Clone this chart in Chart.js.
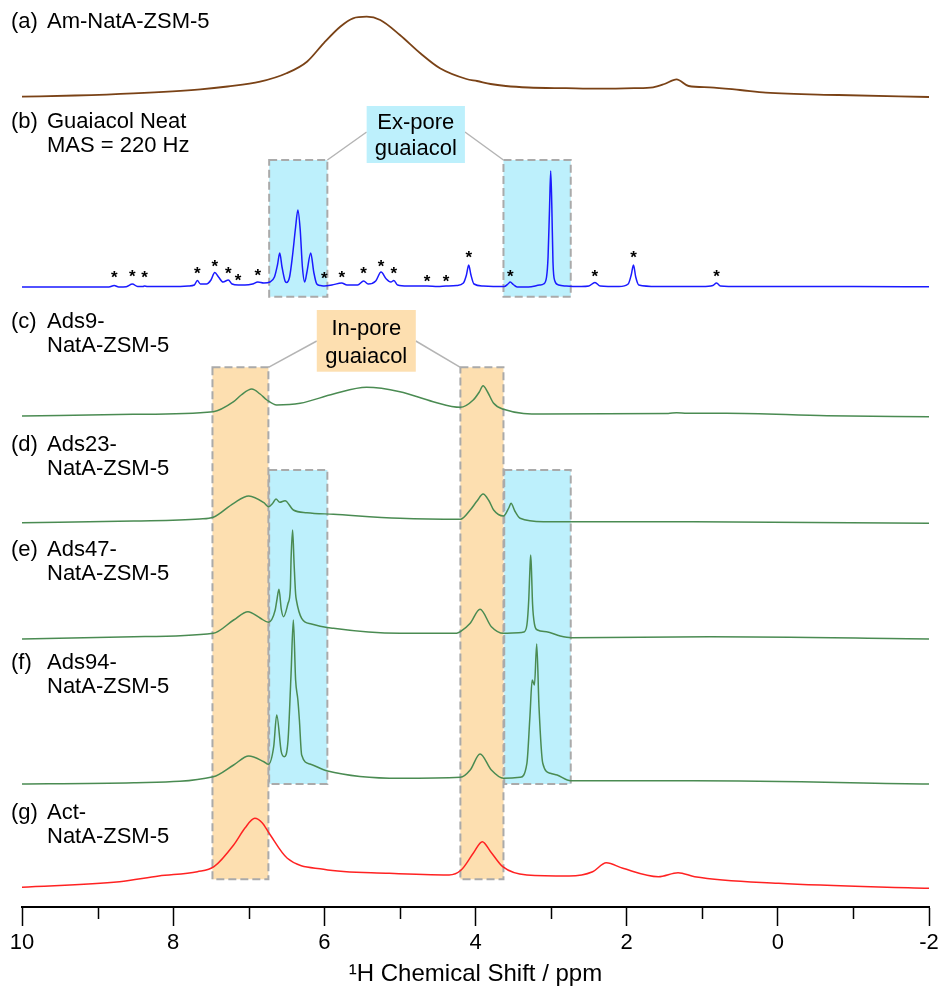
<!DOCTYPE html>
<html>
<head>
<meta charset="utf-8">
<script src="https://cdn.jsdelivr.net/npm/chart.js@4.4.1/dist/chart.umd.min.js"></script>
<style>
  html, body { margin: 0; padding: 0; background: #fff; }
  #wrap { width: 938px; height: 986px; position: relative; }
</style>
</head>
<body>
<div id="wrap"><canvas id="nmr"></canvas></div>
<script>
// ---- spectra: chemical shift (ppm) and intensity above each trace's own baseline ----
const ppmA = [10.0, 9.3, 8.53, 7.64, 7.28, 6.85, 6.5, 6.23, 6.01, 5.79, 5.62, 5.44, 5.26, 5.0, 4.73, 4.47, 4.12, 3.98, 3.8, 3.6, 3.3, 2.8, 2.37, 1.9, 1.65, 1.5, 1.34, 1.18, 0.9, 0.5, 0.16, -0.8, -2.0];
const intA = [0.3, 1.5, 3.7, 7.7, 10.5, 15.3, 23.7, 35.3, 53.7, 70.3, 78.7, 80.3, 77, 62, 43.7, 28.7, 18, 16, 13, 11, 9.5, 8.8, 8.3, 8.8, 9.7, 13, 17.7, 11, 9.7, 7, 4.3, 2, 0];

const ppmB = [10.0, 9.5, 9.0, 8.85, 8.78, 8.72, 8.62, 8.54, 8.47, 8.4, 8.38, 8.34, 8.0, 7.8, 7.72, 7.68, 7.64, 7.56, 7.5, 7.45, 7.4, 7.34, 7.27, 7.22, 7.14, 7.05, 6.95, 6.88, 6.8, 6.72, 6.66, 6.62, 6.59, 6.56, 6.52, 6.5, 6.46, 6.42, 6.38, 6.35, 6.32, 6.29, 6.26, 6.23, 6.18, 6.14, 6.1, 6.05, 6.0, 5.9, 5.77, 5.7, 5.56, 5.48, 5.42, 5.32, 5.25, 5.18, 5.12, 5.08, 5.03, 4.9, 4.64, 4.5, 4.39, 4.25, 4.16, 4.12, 4.09, 4.06, 4.02, 3.9, 3.62, 3.57, 3.54, 3.5, 3.45, 3.3, 3.15, 3.1, 3.06, 3.04, 3.02, 3.005, 2.99, 2.975, 2.95, 2.9, 2.8, 2.6, 2.5, 2.42, 2.35, 2.1, 1.98, 1.94, 1.91, 1.88, 1.84, 1.6, 1.0, 0.86, 0.81, 0.76, 0.5, 0.0, -1.0, -2.0];
const intB = [0, 0, 0, 0, 1.5, 0, 0.3, 3, 0.5, 0.5, 1, 0.5, 0.5, 1, 2, 6.5, 3, 3, 7, 14.5, 10, 5, 7, 3, 2, 2, 3, 5, 4, 5, 10, 22, 34, 20, 6, 4.5, 10, 32, 60, 77, 58, 20, 5, 15, 34, 15, 3, 1.5, 1, 2, 4, 2, 2, 6, 3, 6, 15, 8, 5, 6.5, 2, 1, 1, 0.5, 1, 1.5, 4, 12, 22, 12, 3, 1, 0.5, 3, 5, 2.5, 0, 0, 2, 3, 10, 30, 80, 116, 80, 25, 6, 2, 1, 0.5, 1, 4.5, 1, 0.5, 3, 12, 22, 10, 2, 0.5, 0.5, 1.5, 4, 1, 0.5, 0.5, 0.5, 0.3];

const ppmC = [10.0, 8.53, 7.47, 7.2, 7.1, 6.96, 6.85, 6.76, 6.63, 6.32, 5.88, 5.44, 5.0, 4.56, 4.2, 4.03, 3.95, 3.9, 3.84, 3.76, 3.63, 3.1, 1.45, 1.34, 1.2, 0.68, -0.65, -2.0];
const intC = [0, 1.7, 4.3, 14.3, 21, 27, 22, 16, 11, 12.7, 22, 28.7, 24.3, 14.3, 8.7, 16, 24, 30.3, 24, 12.7, 6.7, 2, 2.5, 3.3, 2.7, 2.7, 0.3, -0.7];

const ppmD = [10.0, 8.52, 7.65, 7.47, 7.2, 7.0, 6.8, 6.74, 6.68, 6.64, 6.59, 6.52, 6.41, 6.23, 5.88, 5.0, 4.2, 4.07, 3.98, 3.9, 3.82, 3.76, 3.63, 3.56, 3.53, 3.48, 3.41, 3.1, 1.12, -2.0];
const intD = [0.3, 2, 4, 5.7, 19.7, 27, 20.3, 16.3, 20, 24, 20.7, 22.3, 13, 10.3, 8.7, 4.7, 3.7, 13, 22, 29, 22, 13, 7, 15, 19.7, 12, 4.7, 1.3, 1.3, -0.3];

const ppmE = [10.0, 8.52, 7.47, 7.2, 7.01, 6.85, 6.74, 6.65, 6.63, 6.6, 6.57, 6.54, 6.48, 6.45, 6.44, 6.42, 6.4, 6.38, 6.37, 6.3, 6.17, 5.88, 5.0, 4.25, 4.2, 4.07, 3.94, 3.79, 3.63, 3.43, 3.36, 3.32, 3.295, 3.28, 3.27, 3.26, 3.245, 3.22, 3.18, 3.06, 2.88, 2.73, 0.9, -2.0];
const intE = [0, 2.3, 5.7, 19, 27.3, 21, 16.7, 29, 38, 49.7, 30, 22.3, 35.7, 50, 80, 109, 75, 45, 39, 20.7, 15, 10.7, 5.7, 5.7, 7.3, 15.7, 29.7, 12.3, 5.7, 6.3, 7, 14, 40, 70, 84, 70, 35, 15, 9, 7.3, 3, 1.3, 2.3, 0];

const ppmF = [10.0, 8.52, 7.47, 7.2, 7.0, 6.8, 6.74, 6.67, 6.63, 6.57, 6.53, 6.48, 6.44, 6.41, 6.38, 6.35, 6.33, 6.3, 6.19, 5.97, 5.0, 4.2, 4.07, 3.94, 3.79, 3.63, 3.41, 3.32, 3.28, 3.25, 3.22, 3.19, 3.16, 3.11, 3.01, 2.92, 2.74, 1.12, -2.0];
const intF = [0, 1.3, 7.3, 19, 28, 22.3, 19.7, 37.3, 69, 32.3, 27.3, 44, 110.7, 164, 104, 84, 64, 29, 20, 13.3, 5.7, 6.7, 14, 30, 14, 5.7, 6.7, 20.7, 67.3, 104, 99, 140, 77.3, 20.7, 10.7, 9, 3.3, 3.3, 0];

const ppmG = [10.0, 8.71, 8.19, 7.68, 7.46, 7.2, 7.05, 6.92, 6.82, 6.73, 6.49, 6.01, 5.14, 4.35, 4.19, 4.03, 3.91, 3.8, 3.64, 3.32, 2.76, 2.45, 2.27, 2.05, 1.58, 1.32, 1.1, -0.01, -2.0];
const intG = [0.7, 6.3, 12, 16.3, 21.3, 43, 60, 69.7, 65, 54.7, 29.7, 18.7, 14.7, 13, 18, 34.7, 46.3, 36.3, 21.3, 13, 12, 16.3, 25.3, 19.7, 11.3, 15.3, 11.3, 4.7, -0.3];

// spinning sidebands in the neat guaiacol trace (b): position and height of the asterisk
const starPpm = [8.78, 8.54, 8.38, 7.68, 7.45, 7.27, 7.14, 6.88, 6.0, 5.77, 5.48, 5.25, 5.08, 4.64, 4.39, 4.09, 3.54, 2.42, 1.91, 0.81];
const starHeight = [14.3, 15.3, 13.7, 17.7, 24.7, 17.7, 11, 16.3, 13, 14.3, 17.7, 24.7, 17.7, 9.7, 9.7, 33.7, 14.7, 14.7, 33.7, 14.7];

const xTicks = [10, 8, 6, 4, 2, 0, -2];
const minorTicks = [9, 7, 5, 3, 1, -1];

const sampleTags = ['(a)', '(b)', '(c)', '(d)', '(e)', '(f)', '(g)'];
const sampleNames = [
    ['Am-NatA-ZSM-5'],
    ['Guaiacol Neat', 'MAS = 220 Hz'],
    ['Ads9-', 'NatA-ZSM-5'],
    ['Ads23-', 'NatA-ZSM-5'],
    ['Ads47-', 'NatA-ZSM-5'],
    ['Ads94-', 'NatA-ZSM-5'],
    ['Act-', 'NatA-ZSM-5'],
];

// ---- layout ----
const FONT = "'Liberation Sans', Arial, sans-serif";
const Y_MAX = 907;                                 // one y unit = one pixel of the plot area
const offsets = [810, 620, 491, 384, 268, 123, 19]; // baseline of each stacked trace
const colors = ['#7a4216', '#1a1aff', '#4a8b52', '#4a8b52', '#4a8b52', '#4a8b52', '#ff2222'];
const labelTop = [22, 122, 322, 445, 550, 663, 813];

const CYAN = '#bdf0fc';
const PEACH = '#fddfb0';
// shaded regions [ppm from, ppm to, y top, y bottom]
const regions = [
    { from: 7.48, to: 6.74, top: 539.7, bottom: 27.7, fill: PEACH },
    { from: 4.2, to: 3.63, top: 539.7, bottom: 27.7, fill: PEACH },
    { from: 6.73, to: 5.96, top: 747, bottom: 610.3, fill: CYAN },
    { from: 3.63, to: 2.74, top: 747, bottom: 610.3, fill: CYAN },
    { from: 6.73, to: 5.96, top: 437, bottom: 123, fill: CYAN },
    { from: 3.62, to: 2.74, top: 437, bottom: 123, fill: CYAN },
];
const callouts = [
    { from: 5.44, to: 4.14, top: 801, bottom: 744, fill: CYAN, lines: ['Ex-pore', 'guaiacol'],
      links: [[5.96, 747, 5.44, 775], [4.14, 775, 3.63, 747]] },
    { from: 6.10, to: 4.79, top: 597, bottom: 535.3, fill: PEACH, lines: ['In-pore', 'guaiacol'],
      links: [[6.74, 539.7, 6.10, 566], [4.79, 566, 4.2, 539.7]] },
];

const traces = [[ppmA, intA], [ppmB, intB], [ppmC, intC], [ppmD, intD], [ppmE, intE], [ppmF, intF], [ppmG, intG]];

const datasets = traces.map(([ppm, inten], i) => ({
    label: sampleTags[i],
    data: ppm.map((p, k) => ({ x: p, y: offsets[i] + inten[k] })),
    borderColor: colors[i],
    borderWidth: i === 0 ? 1.8 : 1.5,
    pointRadius: 0,
    fill: false,
    cubicInterpolationMode: 'monotone',
}));

// 背景の枠とラベル
const regionPlugin = {
    id: 'regions',
    beforeDatasetsDraw(chart) {
        const { ctx, scales: { x, y } } = chart;
        ctx.save();
        regions.forEach(r => {
            const x0 = x.getPixelForValue(r.from), x1 = x.getPixelForValue(r.to);
            const y0 = y.getPixelForValue(r.top), y1 = y.getPixelForValue(r.bottom);
            ctx.fillStyle = r.fill;
            ctx.fillRect(x0, y0, x1 - x0, y1 - y0);
        });
        ctx.strokeStyle = '#aaaaaa';
        ctx.lineWidth = 2;
        ctx.setLineDash([8, 4]);
        regions.forEach(r => {
            const x0 = x.getPixelForValue(r.from), x1 = x.getPixelForValue(r.to);
            const y0 = y.getPixelForValue(r.top), y1 = y.getPixelForValue(r.bottom);
            ctx.strokeRect(x0, y0, x1 - x0, y1 - y0);
        });
        ctx.setLineDash([]);
        callouts.forEach(c => {
            ctx.strokeStyle = '#b4b4b4';
            ctx.lineWidth = 1.5;
            c.links.forEach(([p0, v0, p1, v1]) => {
                ctx.beginPath();
                ctx.moveTo(x.getPixelForValue(p0), y.getPixelForValue(v0));
                ctx.lineTo(x.getPixelForValue(p1), y.getPixelForValue(v1));
                ctx.stroke();
            });
            const x0 = x.getPixelForValue(c.from), x1 = x.getPixelForValue(c.to);
            const y0 = y.getPixelForValue(c.top), y1 = y.getPixelForValue(c.bottom);
            ctx.fillStyle = c.fill;
            ctx.fillRect(x0, y0, x1 - x0, y1 - y0);
            ctx.fillStyle = '#000';
            ctx.font = '22px ' + FONT;
            ctx.textAlign = 'center';
            ctx.textBaseline = 'middle';
            const cx = (x0 + x1) / 2, h = y1 - y0;
            ctx.fillText(c.lines[0], cx, y0 + h * 0.3);
            ctx.fillText(c.lines[1], cx, y0 + h * 0.76);
        });
        ctx.restore();
    },
    afterDatasetsDraw(chart) {
        const { ctx, scales: { x, y } } = chart;
        ctx.save();
        // アスタリスク
        ctx.fillStyle = '#000';
        ctx.font = 'bold 17px ' + FONT;
        ctx.textAlign = 'center';
        ctx.textBaseline = 'alphabetic';
        starPpm.forEach((p, i) => {
            ctx.fillText('*', x.getPixelForValue(p), y.getPixelForValue(offsets[1] + starHeight[i]) + 10);
        });
        // サンプル名
        ctx.font = '22px ' + FONT;
        ctx.textAlign = 'left';
        ctx.textBaseline = 'middle';
        sampleTags.forEach((tag, i) => {
            ctx.fillText(tag, 11, labelTop[i]);
            sampleNames[i].forEach((line, k) => {
                ctx.fillText(line, 47, labelTop[i] + k * 24);
            });
        });
        // 副目盛
        ctx.strokeStyle = '#000';
        ctx.lineWidth = 1.5;
        minorTicks.forEach(v => {
            const px = Math.round(x.getPixelForValue(v)) + 0.5;
            ctx.beginPath();
            ctx.moveTo(px, x.top);
            ctx.lineTo(px, x.top + 12);
            ctx.stroke();
        });
        ctx.restore();
    }
};

new Chart(document.getElementById('nmr'), {
    type: 'line',
    data: { datasets },
    options: {
        responsive: true,
        maintainAspectRatio: false,
        animation: false,
        layout: { padding: { left: 22, right: 9, top: 0, bottom: 0 } },
        plugins: {
            legend: { display: false },
            tooltip: { enabled: false },
        },
        scales: {
            x: {
                type: 'linear',
                reverse: true,
                min: -2,
                max: 10,
                afterBuildTicks(scale) {
                    scale.ticks = xTicks.map(v => ({ value: v }));
                },
                afterFit(scale) {
                    // 端のラベル分の余白は layout.padding で確保する
                    scale.paddingLeft = 0;
                    scale.paddingRight = 0;
                },
                border: { display: true, color: '#000', width: 2 },
                grid: {
                    display: true,
                    drawOnChartArea: false,
                    drawTicks: true,
                    tickLength: 19,
                    tickWidth: 1.5,
                    tickColor: '#000',
                },
                ticks: {
                    autoSkip: false,
                    maxRotation: 0,
                    padding: 6,
                    color: '#000',
                    font: { family: FONT, size: 22, lineHeight: 1 },
                },
                title: {
                    display: true,
                    text: '¹H Chemical Shift / ppm',
                    color: '#000',
                    font: { family: FONT, size: 24, lineHeight: 1 },
                    padding: { top: 2, bottom: 0 },
                },
            },
            y: {
                display: false,
                min: 0,
                max: Y_MAX,
            },
        },
    },
    plugins: [regionPlugin],
});
</script>
</body>
</html>
